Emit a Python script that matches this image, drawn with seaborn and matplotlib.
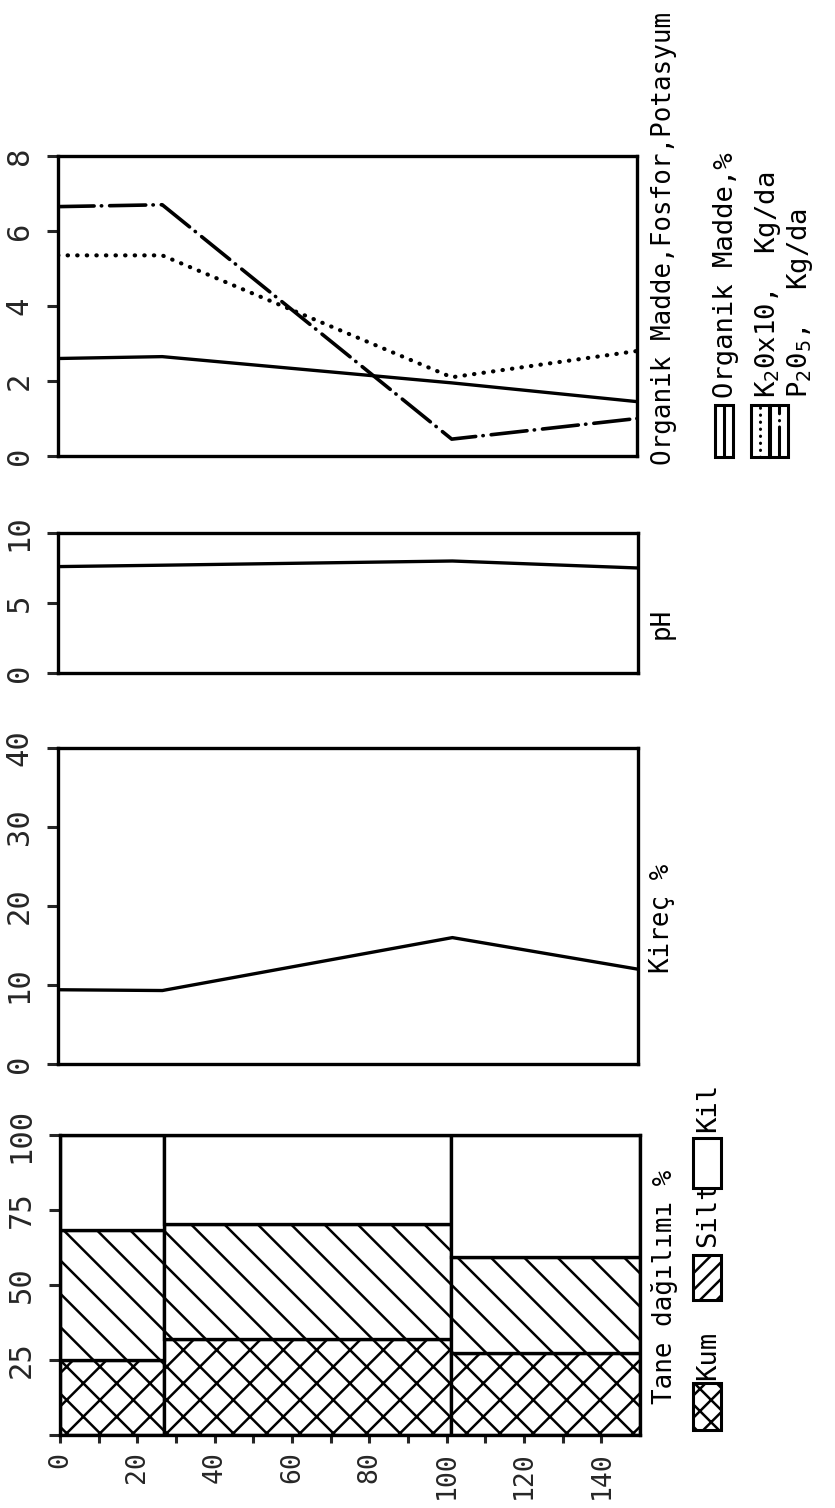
import numpy as np
import matplotlib
matplotlib.use('Agg')
import matplotlib.pyplot as plt
import seaborn as sns
from matplotlib.patches import Rectangle
from matplotlib.lines import Line2D

# ---- data (depth in cm) ----
depth   = [0, 27, 102, 150]
organik = [2.6, 2.65, 1.95, 1.45]     # Organik Madde, %
k2o     = [5.35, 5.35, 2.1, 2.8]      # K2O x10, kg/da
p2o5    = [6.65, 6.7, 0.45, 1.0]      # P2O5, kg/da
ph      = [7.6, 7.7, 8.0, 7.5]
kirec   = [9.4, 9.3, 16.0, 12.0]

# grain size by horizon
edges = [0, 27, 101, 150]
kum   = [25.0, 32.0, 27.5]
silt  = [43.5, 38.5, 32.0]
kil   = [31.5, 29.5, 40.5]

# ---- style ----
sns.set_style('ticks')
plt.rcParams['font.family'] = ['DejaVu Sans Mono', 'DejaVu Sans']
plt.rcParams['hatch.linewidth'] = 0.9
plt.rcParams['hatch.color'] = 'black'

W, H, DPI = 835, 1508, 200
fig = plt.figure(figsize=(W / DPI, H / DPI), dpi=DPI)
fig.patch.set_facecolor('white')

def px(x0, y0, x1, y1):
    # pixel box (origin top-left) -> figure fractions
    return [x0 / W, 1 - y1 / H, (x1 - x0) / W, (y1 - y0) / H]

def fp(x, y):
    return x / W, 1 - y / H

LW = 1.2
ls_dot = (0, (0.1, 2.2))
ls_dd = (0, (10, 2, 0.1, 2.2))

def setup(ax, ymax, yticks, ylabels=None, bottom=False):
    ax.set_xlim(0, 150)
    ax.set_ylim(0, ymax)
    for sp in ax.spines.values():
        sp.set_visible(True)
        sp.set_linewidth(LW)
        sp.set_color('black')
    ax.set_yticks(yticks)
    ax.set_yticklabels(ylabels if ylabels else [str(t) for t in yticks])
    ax.tick_params(axis='y', direction='out', length=3.8, width=1.1, pad=5,
                   labelsize=11, labelrotation=90)
    for lbl in ax.get_yticklabels():
        lbl.set_va('center')
    if bottom:
        ax.set_xticks(np.arange(0, 150, 10))
        ax.set_xticklabels([str(t) if t % 20 == 0 else '' for t in range(0, 150, 10)])
        ax.tick_params(axis='x', direction='out', length=3, width=1.1, pad=3,
                       labelsize=9.5, labelrotation=90)
    else:
        ax.set_xticks([])
    ax.set_xlabel('')
    ax.set_ylabel('')

# ---- panel 1: organic matter, P, K ----
ax1 = fig.add_axes(px(58, 156, 637, 456))
sns.lineplot(x=depth, y=organik, ax=ax1, color='black', lw=LW)
sns.lineplot(x=depth, y=k2o, ax=ax1, color='black', lw=1.5, linestyle=ls_dot,
             dash_capstyle='round')
sns.lineplot(x=depth, y=p2o5, ax=ax1, color='black', lw=1.3, linestyle=ls_dd,
             dash_capstyle='round')
setup(ax1, 8, [0, 2, 4, 6, 8])

# ---- panel 2: pH ----
ax2 = fig.add_axes(px(58, 533, 638, 673))
sns.lineplot(x=depth, y=ph, ax=ax2, color='black', lw=LW)
setup(ax2, 10, [0, 5, 10])

# ---- panel 3: lime ----
ax3 = fig.add_axes(px(58, 748, 638, 1064))
sns.lineplot(x=depth, y=kirec, ax=ax3, color='black', lw=LW)
setup(ax3, 40, [0, 10, 20, 30, 40])

# ---- panel 4: grain size ----
ax4 = fig.add_axes(px(60, 1135, 640, 1435))
widths = np.diff(edges)
left = edges[:-1]
b2 = np.array(kum) + np.array(silt)
ax4.bar(left, kum, width=widths, align='edge', color='white',
        edgecolor='black', hatch='xx', lw=LW)
ax4.bar(left, silt, bottom=kum, width=widths, align='edge', color='white',
        edgecolor='black', hatch='\\\\', lw=LW)
ax4.bar(left, kil, bottom=b2, width=widths, align='edge', color='white',
        edgecolor='black', lw=LW)
setup(ax4, 100, [0, 25, 50, 75, 100], ['', '25', '50', '75', '100'], bottom=True)

# ---- panel titles ----
tkw = dict(rotation=90, fontsize=9.3, color='black')
fig.text(*fp(664, 465), 'Organik Madde,Fosfor,Potasyum', ha='center', va='bottom', **tkw)
fig.text(*fp(662, 623), 'pH', ha='center', va='center', **tkw)
fig.text(*fp(662, 973), 'Kireç %', ha='center', va='bottom', **tkw)
fig.text(*fp(664, 1404), 'Tane dağılımı %', ha='center', va='bottom', **tkw)

# ---- legend, top panel ----
lkw = dict(rotation=90, fontsize=9.8, color='black', ha='center', va='bottom')
keys = [('-', 'Organik Madde,%', 724, 726),
        (ls_dot, 'K$_2$0x10,  Kg/da', 760, 768),
        (ls_dd, 'P$_2$0$_5$,  Kg/da', 779, 800)]
for style, label, xc, xt in keys:
    fig.add_artist(Rectangle(fp(xc - 9, 457), 18 / W, 52 / H, transform=fig.transFigure,
                             fill=False, edgecolor='black', lw=1.1))
    x0, y0 = fp(xc, 457)
    x1, y1 = fp(xc, 405)
    fig.add_artist(Line2D([x0, x1], [y0, y1], transform=fig.transFigure, color='black',
                          lw=1.1, linestyle=style, dash_capstyle='round'))
    fig.text(*fp(xt, 398), label, **lkw)

# ---- legend, grain size ----
gkeys = [('xxx', 'Kum', 1430, 1383, 1380),
         ('////', 'Silt', 1300, 1255, 1247),
         ('', 'Kil', 1188, 1138, 1132)]
for hatch, label, yb, yt, ytext in gkeys:
    fig.add_artist(Rectangle(fp(693, yb), 28 / W, (yb - yt) / H, transform=fig.transFigure,
                             facecolor='white', edgecolor='black', hatch=hatch, lw=1.1))
    fig.text(*fp(708, ytext), label, **lkw)

fig.savefig('out.png', dpi=DPI, facecolor='white')
